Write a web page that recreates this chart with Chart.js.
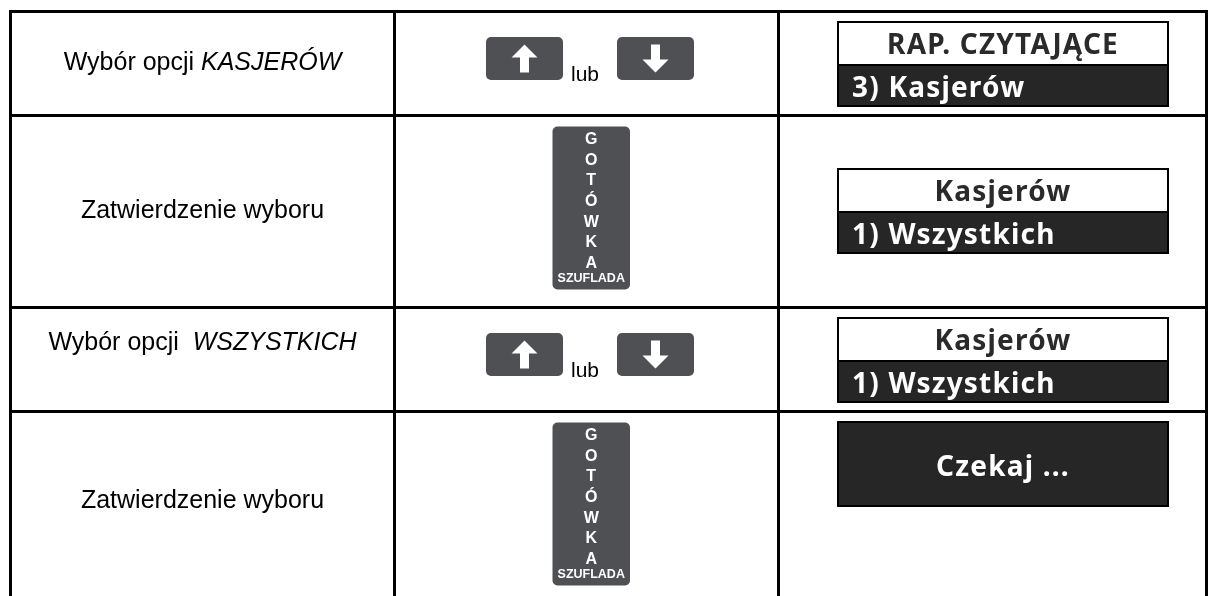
<!DOCTYPE html>
<html lang="pl">
<head>
<meta charset="utf-8">
<title>Raport kasjerów</title>
<script src="https://cdn.jsdelivr.net/npm/chart.js@4.4.1/dist/chart.umd.min.js"></script>
<style>
  html, body { margin: 0; padding: 0; background: #fff; }
  canvas { display: block; }
</style>
</head>
<body>
<canvas id="steps" width="1209" height="596"></canvas>
<script>
// Instrukcja krok po kroku: raport czytający kasjerów (wszystkich).
const actionText = ['Wybór opcji ', 'Zatwierdzenie wyboru', 'Wybór opcji  ', 'Zatwierdzenie wyboru'];
const actionItalic = ['KASJERÓW', '', 'WSZYSTKICH', ''];
const keyType = ['arrows', 'cash', 'arrows', 'cash'];
const keyJoin = 'lub';
const cashLetters = ['G', 'O', 'T', 'Ó', 'W', 'K', 'A'];
const cashCaption = 'SZUFLADA';
const screenHead = ['RAP. CZYTAJĄCE', 'Kasjerów', 'Kasjerów', 'Czekaj ...'];
const screenLine = ['3) Kasjerów', '1) Wszystkich', '1) Wszystkich', ''];

// ── layout ────────────────────────────────────────────────────────────────────
const W = 1209, H = 596;
const COLS = [10.5, 394.5, 778.5, 1206.5];
const ROWS = [11.5, 115.5, 307.5, 411.5];
const LINE = 3;
const TEXT_Y = [63, 211, 343, 501];
const SCREEN = { x0: 837, x1: 1169, top: [21, 168, 317, 421], h: 86 };
const KEY = '#4f5054', INK = '#2a2a2a', PANEL = '#262626';
const SANS = '"Liberation Sans", Arial, sans-serif';
const LCD = '"Noto Sans", "Open Sans", sans-serif';

function roundRect(ctx, x, y, w, h, r) {
  ctx.beginPath();
  ctx.moveTo(x + r, y);
  ctx.arcTo(x + w, y, x + w, y + h, r);
  ctx.arcTo(x + w, y + h, x, y + h, r);
  ctx.arcTo(x, y + h, x, y, r);
  ctx.arcTo(x, y, x + w, y, r);
  ctx.closePath();
  ctx.fill();
}

function arrow(ctx, cx, cy, dir) {
  // dir = -1 up, +1 down
  const tip = cy + dir * 14, base = cy + dir * 1, tail = cy - dir * 14;
  ctx.fillStyle = '#fff';
  ctx.beginPath();
  ctx.moveTo(cx, tip);
  ctx.lineTo(cx + 13, base);
  ctx.lineTo(cx + 4.5, base);
  ctx.lineTo(cx + 4.5, tail);
  ctx.lineTo(cx - 4.5, tail);
  ctx.lineTo(cx - 4.5, base);
  ctx.lineTo(cx - 13, base);
  ctx.closePath();
  ctx.fill();
}

const table = {
  id: 'table',
  afterDraw(chart) {
    const { ctx, scales: { x, y } } = chart;
    const px = (v) => x.getPixelForValue(v);
    const py = (v) => y.getPixelForValue(v);
    ctx.save();
    ctx.fillStyle = '#fff';
    ctx.fillRect(0, 0, W, H);

    // grid
    ctx.fillStyle = '#000';
    for (const c of COLS) ctx.fillRect(px(c) - LINE / 2, py(ROWS[0]) - LINE / 2, LINE, H);
    for (const r of ROWS) ctx.fillRect(px(COLS[0]) - LINE / 2, py(r) - LINE / 2, px(COLS[3]) - px(COLS[0]) + LINE, LINE);

    // column 1 — action
    ctx.textBaseline = 'middle';
    ctx.textAlign = 'left';
    actionText.forEach((t, i) => {
      const cx = (px(COLS[0]) + px(COLS[1])) / 2;
      ctx.font = `25px ${SANS}`;
      const w1 = ctx.measureText(t).width;
      ctx.font = `italic 25px ${SANS}`;
      const w2 = ctx.measureText(actionItalic[i]).width;
      const x0 = cx - (w1 + w2) / 2;
      ctx.fillStyle = '#000';
      ctx.font = `25px ${SANS}`;
      ctx.fillText(t, x0, py(TEXT_Y[i]));
      ctx.font = `italic 25px ${SANS}`;
      ctx.fillText(actionItalic[i], x0 + w1, py(TEXT_Y[i]));
    });

    // column 2 — keys
    keyType.forEach((k, i) => {
      const cx = (px(COLS[1]) + px(COLS[2])) / 2;
      const top = py(ROWS[i]);
      if (k === 'arrows') {
        const cy = top + 47;
        ctx.fillStyle = KEY;
        roundRect(ctx, cx - 100.5, cy - 21.5, 77, 43, 5);
        roundRect(ctx, cx + 30.5, cy - 21.5, 77, 43, 5);
        arrow(ctx, cx - 62, cy, -1);
        arrow(ctx, cx + 69, cy, 1);
        ctx.fillStyle = '#000';
        ctx.font = `21px ${SANS}`;
        ctx.textBaseline = 'alphabetic';
        ctx.textAlign = 'left';
        ctx.fillText(keyJoin, cx - 15.5, cy + 22);
      } else {
        const kx = cx - 34, ky = top + 11;
        ctx.fillStyle = KEY;
        roundRect(ctx, kx, ky, 77.5, 163, 5);
        ctx.fillStyle = '#fff';
        ctx.textAlign = 'center';
        ctx.textBaseline = 'alphabetic';
        ctx.font = `bold 16px ${SANS}`;
        cashLetters.forEach((l, j) => ctx.fillText(l, kx + 38.75, ky + 17.6 + j * 20.6));
        ctx.font = `bold 12.5px ${SANS}`;
        ctx.fillText(cashCaption, kx + 38.75, ky + 155);
      }
    });

    // column 3 — display
    const sx0 = px(SCREEN.x0), sx1 = px(SCREEN.x1), sw = sx1 - sx0;
    if ('letterSpacing' in ctx) ctx.letterSpacing = '1.2px';
    screenHead.forEach((head, i) => {
      const top = py(SCREEN.top[i]);
      ctx.fillStyle = '#000';
      ctx.fillRect(sx0, top, sw, SCREEN.h);
      ctx.font = `bold 28px ${LCD}`;
      ctx.textBaseline = 'alphabetic';
      if (screenLine[i]) {
        ctx.fillStyle = '#fff';
        ctx.fillRect(sx0 + 2, top + 2, sw - 4, 41);
        ctx.fillStyle = PANEL;
        ctx.fillRect(sx0 + 2, top + 45, sw - 4, SCREEN.h - 47);
        ctx.fillStyle = INK;
        ctx.textAlign = 'center';
        ctx.fillText(head, (sx0 + sx1) / 2, top + 33);
        ctx.fillStyle = '#fff';
        ctx.textAlign = 'left';
        ctx.fillText(screenLine[i], sx0 + 15, top + 76);
      } else {
        ctx.fillStyle = PANEL;
        ctx.fillRect(sx0 + 2, top + 2, sw - 4, SCREEN.h - 4);
        ctx.fillStyle = '#fff';
        ctx.textAlign = 'center';
        ctx.fillText(head, (sx0 + sx1) / 2, top + 55);
      }
    });
    ctx.restore();
  },
};

new Chart(document.getElementById('steps'), {
  type: 'scatter',
  data: { datasets: [] },
  options: {
    responsive: false,
    animation: false,
    devicePixelRatio: 1,
    events: [],
    layout: { padding: 0 },
    plugins: { legend: { display: false }, tooltip: { enabled: false } },
    scales: {
      x: { type: 'linear', min: 0, max: W, display: false },
      y: { type: 'linear', min: 0, max: H, reverse: true, display: false },
    },
  },
  plugins: [table],
});
</script>
</body>
</html>
